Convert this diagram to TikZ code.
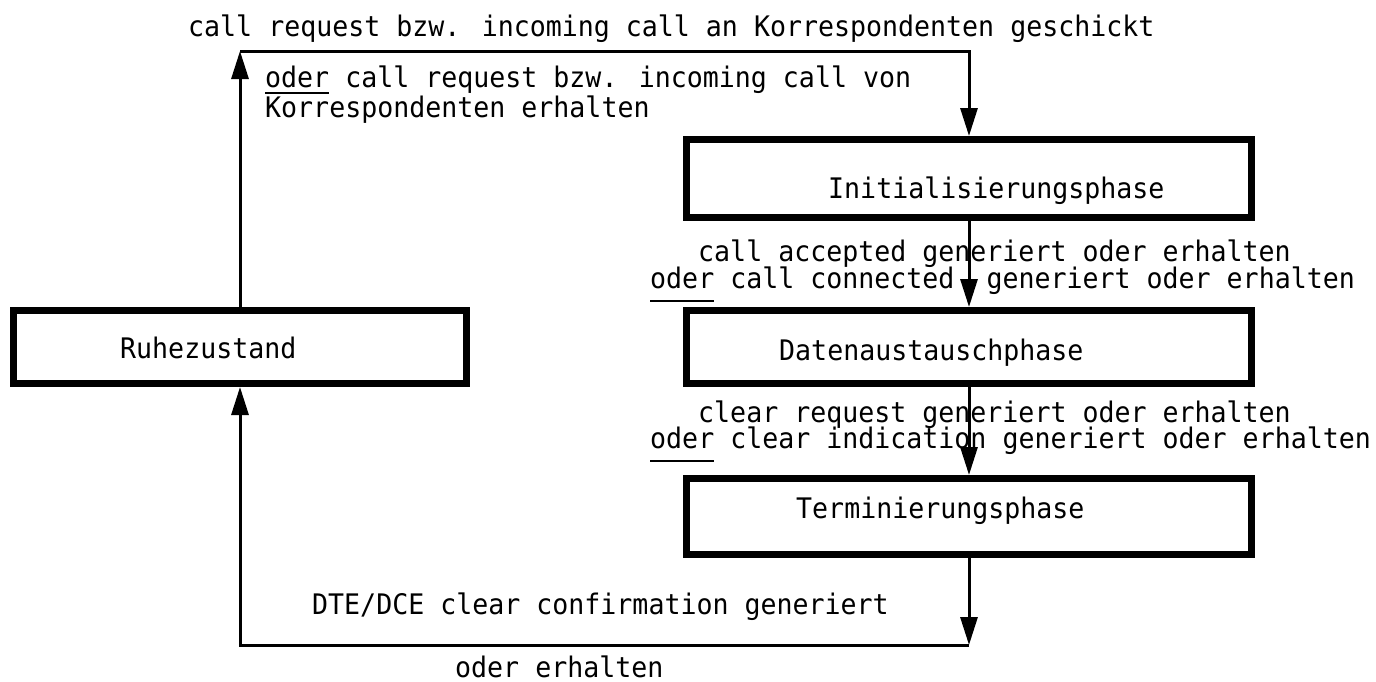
\documentclass[tikz,border=0pt]{standalone}
\usepackage{fontspec}
\setmainfont[FakeStretch=0.94]{DejaVu Sans Mono}
\usetikzlibrary{arrows.meta}
\newcommand\odr{\rlap{\rule[-14pt]{64pt}{2pt}}oder}
\newcommand\odrs{\rlap{\rule[-7pt]{64pt}{2pt}}oder}
\tikzset{
  phasebox/.style={draw, line width=7pt, inner sep=0pt},
  conn/.style={line width=3pt},
  tip/.style={-{Triangle[length=28pt,width=17pt]}},
  txt/.style={anchor=base west, inner sep=0pt, font=\fontsize{28.3pt}{27pt}\selectfont},
}
\begin{document}
\begin{tikzpicture}[x=1pt,y=-1pt]
\useasboundingbox[fill=white] (0,0) rectangle (1376,681);
% boxes
\node[phasebox, minimum width=453pt, minimum height=73pt] (ruhe) at (240,347) {};
\node[phasebox, minimum width=565pt, minimum height=78pt] (init) at (969,178.5) {};
\node[phasebox, minimum width=565pt, minimum height=73pt] (data) at (969,347) {};
\node[phasebox, minimum width=565pt, minimum height=76pt] (term) at (969,516.5) {};
% box texts
\node[txt] (tRuhe) at (120,358) {Ruhezustand};
\node[txt] (tInit) at (828,198) {Initialisierungsphase};
\node[txt] (tData) at (779,360) {Datenaustauschphase};
\node[txt] (tTerm) at (796,518) {Terminierungsphase};
% corners
\coordinate (c1) at (240,51);
\coordinate (c2) at (969,51);
\coordinate (c3) at (969,645);
\coordinate (c4) at (240,645);
% connectors
\draw[conn, tip] (ruhe.north) -- (c1);
\draw[conn, tip] (c1) -- (c2) -- (init.north);
\draw[conn, tip] (init.south) -- (data.north);
\draw[conn, tip] (data.south) -- (term.north);
\draw[conn, tip] (term.south) -- (c3);
\draw[conn, tip] (c3) -- (c4) -- (ruhe.south);
% labels
\node[txt] (lTop) at (188,36) {call request bzw. incoming call an Korrespondenten geschickt};
\node[txt] (lTopB1) at (265,87) {\odrs{} call request bzw. incoming call von};
\node[txt] (lTopB2) at (265,117) {Korrespondenten erhalten};
\node[txt] (lA1) at (698,261) {call accepted generiert oder erhalten};
\node[txt] (lA2) at (650,288) {\odr{} call connected\ \ generiert oder erhalten};
\node[txt] (lB1) at (698,422) {clear request generiert oder erhalten};
\node[txt] (lB2) at (650,448) {\odr{} clear indication generiert oder erhalten};
\node[txt] (lC1) at (312,614) {DTE/DCE clear confirmation generiert};
\node[txt] (lC2) at (455,677) {oder erhalten};
\end{tikzpicture}
\end{document}
